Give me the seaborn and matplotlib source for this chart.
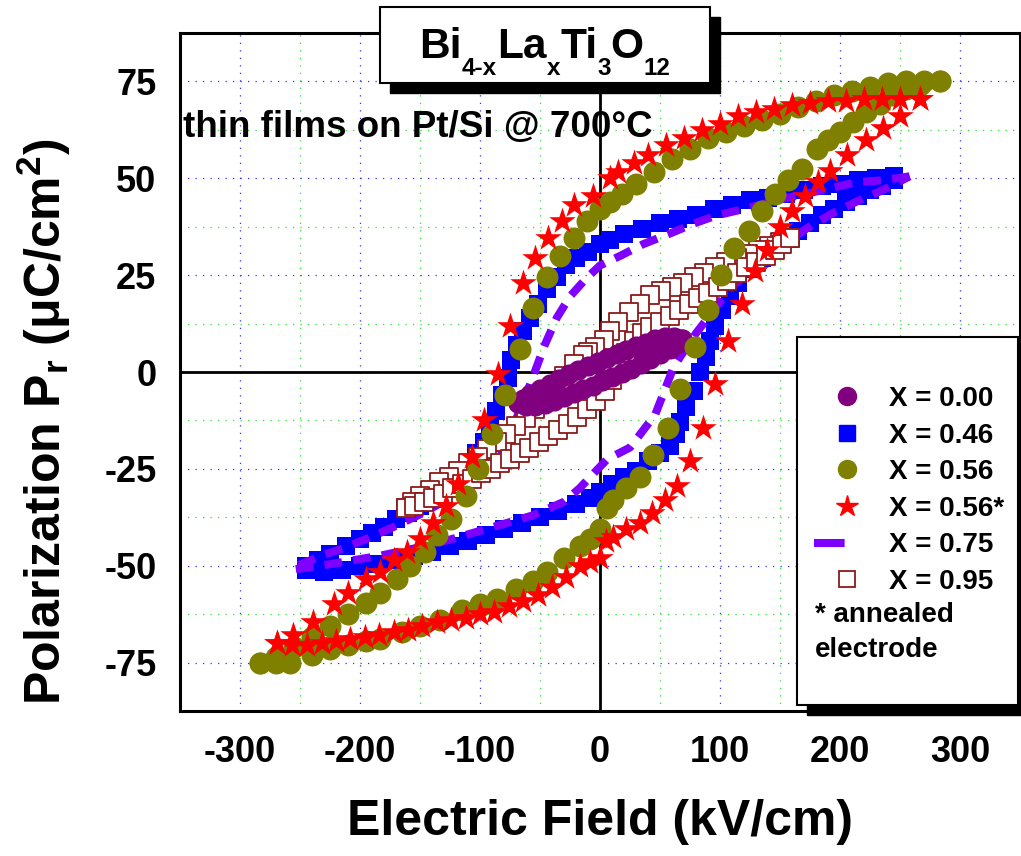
import matplotlib
matplotlib.use("Agg")
import matplotlib.pyplot as plt
import seaborn as sns
import pandas as pd
from matplotlib.patches import Rectangle
from matplotlib.lines import Line2D
from matplotlib.ticker import MultipleLocator

# ---------------- data (E in kV/cm, P in uC/cm^2) ----------------
# X = 0.00
E_000_desc = [68, 62, 54, 46, 38, 30, 22, 14, 6, -2, -10, -18, -26, -34, -42, -50, -58, -64, -68]
P_000_desc = [8.4, 9.0, 9.0, 8.4, 7.6, 6.7, 5.7, 4.7, 3.7, 2.7, 1.6, 0.5, -0.6, -1.8, -3.0, -4.3, -5.7, -7.0, -8.0]
E_000_asc = [-68, -62, -54, -46, -38, -30, -22, -14, -6, 2, 10, 18, 26, 34, 42, 50, 58, 64, 68]
P_000_asc = [-8.0, -8.7, -8.8, -8.2, -7.4, -6.5, -5.5, -4.5, -3.5, -2.4, -1.3, -0.2, 0.9, 2.1, 3.3, 4.6, 6.0, 7.2, 8.4]

# X = 0.46
E_046_desc = [245, 230, 215, 200, 185, 170, 155, 140, 125, 110, 95, 80, 65, 50, 35, 20, 8, 0, -10, -20,
              -28, -36, -44, -52, -58, -64, -69, -74, -77, -82, -87, -92, -97, -103, -110, -120, -130, -140, -150, -160,
              -170, -180, -190, -200, -212, -225, -235, -245]
P_046_desc = [50.5, 50, 49.5, 48.5, 48, 47, 46, 45, 44.5, 43, 42, 40.5, 39.5, 38.5, 37, 35.5, 34, 33, 31, 29.5,
              27.5, 24.5, 21.5, 17.5, 14, 10.5, 7, 3, -1.5, -6, -10, -14, -18, -21, -24, -27, -30, -32, -34.5, -36.5,
              -38, -40, -41.5, -43, -45, -47, -48.5, -50]
E_046_asc = [-245, -230, -215, -200, -185, -170, -155, -140, -125, -110, -95, -80, -65, -50, -35, -20, -8, 0, 10, 20,
             30, 40, 50, 58, 63, 67, 72, 78, 83, 88, 92, 96, 102, 108, 115, 125, 135, 145, 155, 165,
             175, 185, 195, 205, 215, 225, 235, 245]
P_046_asc = [-51, -51.5, -51, -50, -49.5, -48.5, -47.5, -46.5, -45, -43.5, -42, -40.5, -39, -37.5, -36, -34, -32.5, -31, -29, -27,
             -25.5, -23, -21, -19, -16, -13, -9, -5, 0, 4, 8, 12, 16, 19.5, 23, 26.5, 29.5, 32, 34.5, 36.5,
             38.5, 40.5, 42, 44, 45.5, 47, 48, 49.5]

# X = 0.56
E_056_desc = [283, 270, 255, 240, 225, 210, 195, 180, 165, 150, 135, 120, 105, 90, 75, 60, 45, 30, 18, 8,
              0, -11, -22, -33, -44, -56, -67, -79, -90, -102, -112, -124, -136, -146, -158, -169, -183, -195, -210, -225,
              -240, -255, -270, -283]
P_056_desc = [75, 75, 75, 74.5, 73.5, 72.5, 71.5, 70, 68.5, 66.5, 65, 63.5, 62, 60.5, 57.5, 55, 51.5, 48.5, 46, 44,
              42, 39, 34.5, 30, 24.5, 16.5, 6, -6, -16, -25, -32, -38, -42, -46.5, -50, -53.5, -57, -59.5, -62.5, -65.5,
              -68.5, -71, -73.5, -75]
E_056_asc = [-283, -270, -258, -240, -225, -210, -195, -183, -165, -150, -133, -115, -100, -86, -70, -56, -44, -30, -17, -8,
             0, 6, 11, 22, 33, 44, 57, 67, 79, 90, 101, 112, 124, 135, 146, 157, 168, 181, 190, 200,
             211, 222, 233, 244, 255, 267, 283]
P_056_asc = [-75, -75, -75, -73, -71.5, -70.5, -69.5, -69, -67, -65.5, -64, -61.5, -60, -58.5, -56, -54, -51.5, -48, -45, -43,
             -40.5, -35, -33, -30, -27, -21.5, -14.5, -4.5, 6.5, 16, 25, 32, 36.5, 41.5, 46, 49.5, 52.5, 57.5, 59.8, 62,
             64.5, 67, 69.3, 71.5, 73, 74, 75]

# X = 0.56* (annealed electrode)
E_056s_desc = [267, 250, 235, 220, 205, 190, 175, 160, 145, 130, 115, 100, 85, 70, 55, 40, 28, 15, 8, -6,
               -22, -32, -43, -54, -64, -75, -85, -97, -107, -118, -128, -139, -150, -161, -172, -183, -195, -210, -222, -239,
               -256, -269]
P_056s_desc = [70.5, 70.5, 70.5, 70.5, 70, 70, 69.5, 69, 68, 67, 66, 64, 62.5, 60.5, 58.5, 56, 54, 51.5, 50, 45.5,
               43, 39, 34.5, 29.5, 23, 12, -0.5, -12.5, -22, -29, -34.5, -39, -43, -46.5, -48.5, -51.5, -53.5, -57, -60, -64.5,
               -68, -70]
E_056s_asc = [-269, -257, -244, -232, -220, -208, -196, -184, -172, -160, -148, -136, -124, -112, -100, -88, -76, -64, -52, -40,
              -28, -17, -8, 0, 5, 11, 22, 33, 43, 54, 64, 75, 86, 96, 107, 118, 129, 139, 150, 160,
              171, 182, 192, 206, 222, 236, 250, 267]
P_056s_asc = [-70, -70.5, -70.5, -70, -69.5, -69, -68.5, -68, -67, -66.5, -65.5, -64.5, -64, -63.5, -62.5, -62, -60.5, -59, -57.5, -55.5,
              -53, -50, -49, -48, -43.5, -42.5, -40.5, -39, -36.5, -33, -29.5, -23, -14.5, -3, 8, 17.5, 26, 31.5, 37.5, 41.5,
              45.5, 49, 52, 56, 60, 63, 66, 70.5]

# X = 0.75
E_075_desc = [258, 236, 214, 200, 172, 150, 119, 97, 78, 58, 36, 17, 0, -12, -25, -36, -46, -58, -71, -85,
              -100, -120, -145, -172, -194, -214, -233, -256]
P_075_desc = [50.5, 49.5, 49, 48, 46, 44.5, 42, 40.4, 38.3, 35.7, 33, 30, 27.5, 24, 19.5, 14, 7, -3, -13, -20,
              -26, -31.5, -36, -40, -43, -45.5, -47.5, -50.5]
E_075_asc = [-256, -225, -183, -139, -100, -56, -30, -17, 6, 25, 46, 61, 67, 80, 95, 108, 125, 140, 156, 172,
             194, 214, 236, 258]
P_075_asc = [-51, -49.6, -47.4, -44.5, -41, -37, -33.5, -30, -22.5, -19.5, -11, 1, 4, 10, 16, 21.5, 26, 30, 33.5, 37,
             41, 44, 47, 50.5]

# X = 0.95
E_095_desc = [158, 150, 141, 132, 123, 114, 105, 96, 87, 78, 69, 60, 51, 42, 33, 24, 15, 8, 3, -4,
              -10, -14, -22, -30, -38, -46, -54, -62, -70, -78, -86, -94, -102, -110, -118, -126, -134, -142, -150, -157,
              -162]
P_095_desc = [34.5, 33.5, 32.5, 31.5, 30.5, 29.5, 28.5, 27, 25.5, 24.5, 23, 22, 21, 19.8, 17.5, 15.5, 13, 10.5, 8.2, 6.5,
              5.2, 4.5, 2, -1, -4, -7, -9.5, -12, -14, -16, -18, -20, -22, -23.5, -25.5, -27, -28.5, -30.5, -32, -33.5,
              -35]
E_095_asc = [-162, -155, -147, -139, -131, -123, -115, -107, -99, -91, -83, -75, -67, -59, -51, -43, -35, -27, -19, -11,
             -3, 4, 10, 16, 22, 28, 35, 42, 50, 58, 66, 74, 82, 90, 98, 106, 114, 122, 130, 138,
             146, 152, 158]
P_095_asc = [-35, -34.5, -33.5, -32.5, -31.5, -30, -29, -27.5, -26, -25, -23.5, -22.5, -21, -19.5, -18, -16.5, -15, -13.5, -11.5, -9.5,
             -7.5, -5, -2, 1.5, 5, 8, 10, 11.5, 13, 14.5, 16, 17.5, 19, 20.5, 22, 23.5, 25.5, 27, 28.5, 30,
             31.5, 33, 34.5]

labels = ["X = 0.00", "X = 0.46", "X = 0.56", "X = 0.56*", "X = 0.75", "X = 0.95"]
x_ticks = [-300, -200, -100, 0, 100, 200, 300]
y_ticks = [-75, -50, -25, 0, 25, 50, 75]
title_parts = [("Bi", False), ("4-x", True), ("La", False), ("x", True),
               ("Ti", False), ("3", True), ("O", False), ("12", True)]


def loop_df(Ed, Pd, Ea, Pa):
    return pd.DataFrame({"E": list(Ed) + list(Ea), "P": list(Pd) + list(Pa)})


df000 = loop_df(E_000_desc, P_000_desc, E_000_asc, P_000_asc)
df046 = loop_df(E_046_desc, P_046_desc, E_046_asc, P_046_asc)
df056 = loop_df(E_056_desc, P_056_desc, E_056_asc, P_056_asc)
df056s = loop_df(E_056s_desc, P_056s_desc, E_056s_asc, P_056s_asc)
df075 = loop_df(E_075_desc, P_075_desc, E_075_asc, P_075_asc)
df095 = loop_df(E_095_desc, P_095_desc, E_095_asc, P_095_asc)

# ---------------- style ----------------
sns.set_style("white")
plt.rcParams["font.family"] = ["Liberation Sans", "DejaVu Sans"]
plt.rcParams["font.weight"] = "bold"
plt.rcParams["axes.labelweight"] = "bold"
plt.rcParams["text.color"] = "black"
plt.rcParams["axes.labelcolor"] = "black"
plt.rcParams["xtick.color"] = "black"
plt.rcParams["ytick.color"] = "black"
plt.rcParams["axes.unicode_minus"] = False
plt.rcParams["mathtext.fontset"] = "custom"
for k in ["rm", "it", "bf", "sf"]:
    plt.rcParams["mathtext." + k] = "Liberation Sans:bold"

W, H = 1021, 856
fig = plt.figure(figsize=(W / 100, H / 100), dpi=100)
fig.patch.set_facecolor("white")
ax = fig.add_axes([180 / W, 1 - 711 / H, 840 / W, 678 / H])

C000, C046, C056, C056s, C075, C095 = "#800080", "#0000FF", "#808000", "#FF0000", "#8000FF", "#8B1A1A"

sns.scatterplot(data=df046, x="E", y="P", marker="s", s=175, color=C046, linewidth=0,
                ax=ax, zorder=3, legend=False)
sns.lineplot(data=df075, x="E", y="P", sort=False, estimator=None, color=C075, linewidth=5.8,
             ax=ax, zorder=4, legend=False)
ax.lines[-1].set_dashes([2.2, 1.4])
ax.lines[-1].set_dash_capstyle("butt")
sns.scatterplot(data=df095, x="E", y="P", marker="s", s=150, color="white", edgecolor=C095,
                linewidth=1.3, ax=ax, zorder=5, legend=False)
sns.scatterplot(data=df000, x="E", y="P", marker="o", s=210, color=C000, linewidth=0,
                ax=ax, zorder=6, legend=False)
sns.scatterplot(data=df056, x="E", y="P", marker="o", s=250, color=C056, linewidth=0,
                ax=ax, zorder=7, legend=False)
sns.scatterplot(data=df056s, x="E", y="P", marker="*", s=400, color=C056s, linewidth=0,
                ax=ax, zorder=8, legend=False)

ax.axhline(0, color="black", lw=2.0, zorder=2)
ax.axvline(0, color="black", lw=2.0, zorder=2)

ax.set_xlim(-350, 350)
ax.set_ylim(-87.5, 87.5)
ax.set_xticks(x_ticks)
ax.set_yticks(y_ticks)
ax.xaxis.set_minor_locator(MultipleLocator(50))
ax.yaxis.set_minor_locator(MultipleLocator(12.5))
ax.set_axisbelow(True)
ax.grid(True, which="major", color="#3030FF", linestyle=(0, (1, 5)), linewidth=0.9)
ax.grid(True, which="minor", color="#30E030", linestyle=(0, (1, 5)), linewidth=0.9)

ax.tick_params(axis="both", which="major", direction="out", length=10, width=2.2,
               labelsize=26, pad=7, top=False, right=False, colors="black")
ax.tick_params(axis="both", which="minor", direction="out", length=5, width=2.0,
               top=False, right=False, colors="black")
for lab in ax.get_xticklabels() + ax.get_yticklabels():
    lab.set_fontweight("bold")
for sp in ax.spines.values():
    sp.set_visible(True)
    sp.set_color("black")
    sp.set_linewidth(2.2)

ax.set_xlabel("Electric Field (kV/cm)", fontsize=36, fontweight="bold", color="black")
ax.xaxis.label.set_va("center")
ax.xaxis.set_label_coords(0.5, -(822 - 711) / 678)
ax.set_ylabel(r"Polarization P$_r$ (μC/cm$^2$)", fontsize=36, fontweight="bold", color="black")
ax.yaxis.label.set_va("center")
ax.yaxis.set_label_coords((44 - 180) / 840, (711 - 422) / 678)

# title box with shadow
fig.add_artist(Rectangle((390 / W, 1 - 93 / H), 330 / W, 76 / H, transform=fig.transFigure,
                         facecolor="black", edgecolor="black", zorder=3))
fig.add_artist(Rectangle((380 / W, 1 - 83 / H), 330 / W, 76 / H, transform=fig.transFigure,
                         facecolor="white", edgecolor="black", linewidth=1.5, zorder=3.1))

renderer = fig.canvas.get_renderer()
title_texts = []
widths = []
for txt, sub in title_parts:
    t = fig.text(0, 0, txt, fontsize=17.5 if sub else 30.5, fontweight="bold", color="black",
                 ha="left", va="baseline", zorder=4)
    widths.append(t.get_window_extent(renderer).width)
    title_texts.append((t, sub))
xpos = 545 - sum(widths) / 2.0
for (t, sub), w in zip(title_texts, widths):
    t.set_position((xpos / W, 1 - (75 if sub else 58) / H))
    xpos += w

fig.text(183 / W, 1 - 137 / H, "thin films on Pt/Si @ 700°C", ha="left", va="baseline",
         fontsize=26.5, fontweight="bold", zorder=4)

# legend box with shadow
fig.add_artist(Rectangle((807 / W, 1 - 715 / H), 221 / W, 368 / H, transform=fig.transFigure,
                         facecolor="black", edgecolor="black", zorder=3))
fig.add_artist(Rectangle((797 / W, 1 - 705 / H), 221 / W, 368 / H, transform=fig.transFigure,
                         facecolor="white", edgecolor="black", linewidth=1.5, zorder=3.1))

handles = [
    Line2D([], [], ls="none", marker="o", ms=13, color=C000, mec=C000),
    Line2D([], [], ls="none", marker="s", ms=11.5, color=C046, mec=C046),
    Line2D([], [], ls="none", marker="o", ms=13, color=C056, mec=C056),
    Line2D([], [], ls="none", marker="*", ms=16, color=C056s, mec=C056s),
    Line2D([], [], color=C075, lw=5.8, dashes=(3.8, 10), dash_capstyle="butt"),
    Line2D([], [], ls="none", marker="s", ms=11, mfc="white", mec=C095, mew=1.3),
]
leg = fig.legend(handles, labels, loc="upper left", bbox_to_anchor=(814 / W, 1 - 386 / H),
                 frameon=False, prop={"size": 20, "weight": "bold"}, handlelength=2.37,
                 handletextpad=0.32, labelspacing=0.38, borderpad=0, borderaxespad=0)
for t in leg.get_texts():
    t.set_color("black")
leg.set_zorder(5)
fig.text(815 / W, 1 - 615 / H, "* annealed", ha="left", va="center", fontsize=20,
         fontweight="bold", zorder=5)
fig.text(815 / W, 1 - 650 / H, "electrode", ha="left", va="center", fontsize=20,
         fontweight="bold", zorder=5)

fig.savefig("out.png", dpi=100)
